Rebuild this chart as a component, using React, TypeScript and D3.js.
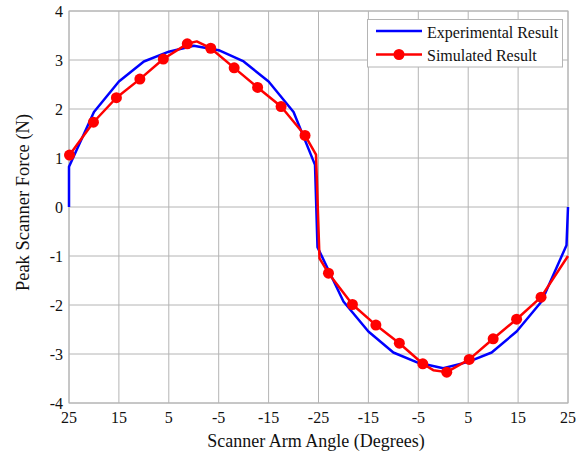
import React from "react";
import * as d3 from "d3";

// Sweep position (0..100) -> scanner arm angle labels
const tickPositions = [0, 10, 20, 30, 40, 50, 60, 70, 80, 90, 100];
const tickLabels = ["25", "15", "5", "-5", "-15", "-25", "-15", "-5", "5", "15", "25"];
const yTicks = [-4, -3, -2, -1, 0, 1, 2, 3, 4];

// Experimental result
const expPos = [0, 0, 5, 10, 15, 20, 25, 30, 35, 40, 45, 49.3, 49.8, 55, 60, 65, 70, 75, 80, 84.7, 89.7, 94.7, 99.7, 100];
const expVal = [0, 0.82, 1.94, 2.56, 2.97, 3.17, 3.29, 3.2, 2.97, 2.56, 1.94, 0.86, -0.82, -1.93, -2.54, -2.97, -3.18, -3.29, -3.16, -2.97, -2.54, -1.93, -0.78, 0];

// Simulated result
const simPos = [0.1, 4.9, 9.5, 14.2, 18.9, 23.7, 25.6, 28.4, 33.1, 37.8, 42.5, 47.3, 49.5, 50.2, 52.0, 56.8, 61.5, 66.2, 70.9, 73.0, 75.7, 80.2, 85.0, 89.7, 94.6, 100];
const simVal = [1.06, 1.73, 2.23, 2.61, 3.02, 3.33, 3.38, 3.24, 2.84, 2.44, 2.05, 1.46, 1.07, -1.05, -1.35, -1.99, -2.41, -2.78, -3.2, -3.33, -3.37, -3.11, -2.69, -2.29, -1.84, -1.0];
const simMarker = [1, 1, 1, 1, 1, 1, 0, 1, 1, 1, 1, 1, 0, 0, 1, 1, 1, 1, 1, 0, 1, 1, 1, 1, 1, 0];

const W = 583;
const H = 457;
const L = 69, R = 568, T = 11, B = 403;
const FONT = "'Liberation Serif', 'Times New Roman', serif";

export default function App() {
  const x = d3.scaleLinear().domain([0, 100]).range([L, R]);
  const y = d3.scaleLinear().domain([-4, 4]).range([B, T]);
  const line = d3
    .line<[number, number]>()
    .x((d) => x(d[0]))
    .y((d) => y(d[1]));
  const expPts: [number, number][] = expPos.map((p, i) => [p, expVal[i]]);
  const simPts: [number, number][] = simPos.map((p, i) => [p, simVal[i]]);
  const grid = "#b4b4b4";
  const ink = "#111";

  return (
    <svg width={W} height={H} style={{ position: "absolute", left: 0, top: 0, background: "#fff" }} fontFamily={FONT}>
      <rect x={0} y={0} width={W} height={H} fill="#fff" />
      {tickPositions.map((p, i) => (
        <line key={"gx" + i} x1={x(p)} x2={x(p)} y1={T} y2={B} stroke={grid} strokeWidth={1} />
      ))}
      {yTicks.map((v, i) => (
        <line key={"gy" + i} x1={L} x2={R} y1={y(v)} y2={y(v)} stroke={grid} strokeWidth={1} />
      ))}
      <rect x={L} y={T} width={R - L} height={B - T} fill="none" stroke={grid} strokeWidth={1} />
      {yTicks.map((v, i) => (
        <text key={"yl" + i} x={63} y={y(v) + 5.5} textAnchor="end" fontSize={16} fill={ink}>
          {v}
        </text>
      ))}
      {tickPositions.map((p, i) => (
        <text key={"xl" + i} x={x(p)} y={423} textAnchor="middle" fontSize={16} fill={ink}>
          {tickLabels[i]}
        </text>
      ))}
      <text x={316} y={447} textAnchor="middle" fontSize={18} fill={ink}>
        Scanner Arm Angle (Degrees)
      </text>
      <text transform={`translate(28.5,202.5) rotate(-90)`} textAnchor="middle" fontSize={18.5} fill={ink}>
        Peak Scanner Force (N)
      </text>
      <path d={line(expPts) || ""} fill="none" stroke="#0000ff" strokeWidth={2.5} strokeLinejoin="round" />
      <path d={line(simPts) || ""} fill="none" stroke="#ff0000" strokeWidth={2.5} strokeLinejoin="round" />
      {simPts.map((d, i) =>
        simMarker[i] ? <circle key={"m" + i} cx={x(d[0])} cy={y(d[1])} r={5.5} fill="#ff0000" /> : null
      )}
      <g>
        <rect x={367.5} y={19.5} width={195} height={47.5} fill="#fff" stroke={grid} strokeWidth={1} />
        <line x1={376} x2={422} y1={31} y2={31} stroke="#0000ff" strokeWidth={2.5} />
        <text x={427} y={37.5} fontSize={16} fill={ink}>Experimental Result</text>
        <line x1={376} x2={422} y1={54.5} y2={54.5} stroke="#ff0000" strokeWidth={2.5} />
        <circle cx={399} cy={54.5} r={5.5} fill="#ff0000" />
        <text x={427} y={60.5} fontSize={16} fill={ink}>Simulated Result</text>
      </g>
    </svg>
  );
}
